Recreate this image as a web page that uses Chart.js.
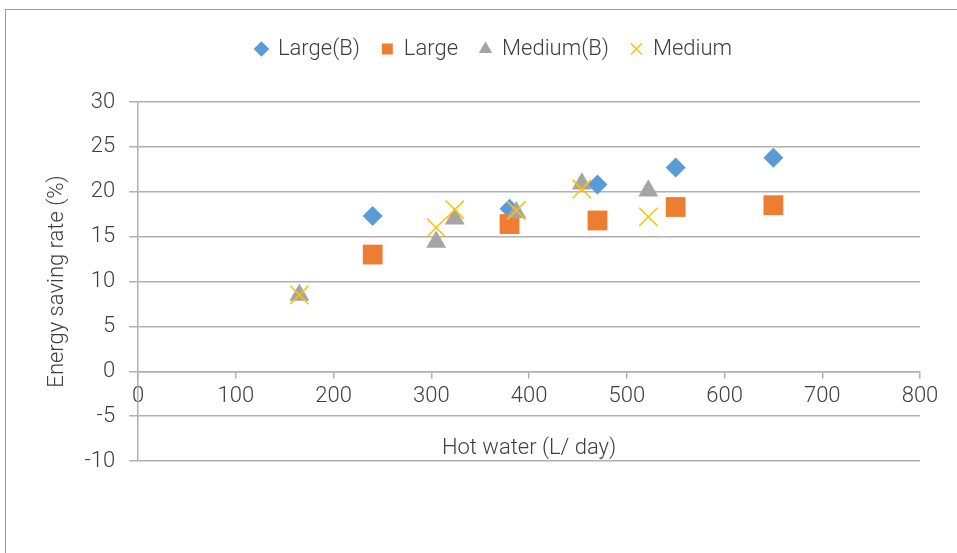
<!DOCTYPE html>
<html>
<head>
<meta charset="utf-8">
<script src="https://cdn.jsdelivr.net/npm/chart.js@4"></script>
<style>
  html, body { margin: 0; padding: 0; background: #fff; overflow: hidden; }
  #wrap { position: relative; width: 957px; height: 553px; }
  #frame { position: absolute; left: 5px; top: 9px; width: 1000px; height: 600px; border: 1px solid #9a9a9a; }
  canvas { position: absolute; left: 0; top: 0; }
</style>
</head>
<body>
<div id="wrap">
  <div id="frame"></div>
  <canvas id="chart" width="957" height="553"></canvas>
</div>
<script>
// hot water (L/day) vs energy saving rate (%)
const largeBX = [240, 380, 470, 550, 650];
const largeBY = [17.3, 18.1, 20.8, 22.7, 23.8];
const largeX = [240, 380, 470, 550, 650];
const largeY = [13.0, 16.4, 16.8, 18.3, 18.5];
const mediumBX = [165, 305, 324, 387, 454, 522];
const mediumBY = [8.5, 14.4, 17.0, 17.7, 20.9, 20.1];
const mediumX = [165, 305, 324, 387, 454, 522];
const mediumY = [8.5, 16.0, 18.0, 17.9, 20.3, 17.2];

const seriesNames = ['Large(B)', 'Large', 'Medium(B)', 'Medium'];
const xTicks = { min: 0, max: 800, step: 100 };
const yTicks = { min: -10, max: 30, step: 5 };

const textColor = '#404040';
const gridColor = '#b0b0b0';
const fontFamily = 'Roboto, "Liberation Sans", sans-serif';

function toPoints(xs, ys) {
    return xs.map((x, i) => ({ x: x, y: ys[i] }));
}

// push the plot down a bit below the legend, and nudge legend right
const legendTweak = {
    id: 'legendTweak',
    beforeInit(chart) {
        const legend = chart.legend;
        const fit = legend.fit;
        legend.fit = function() {
            fit.call(this);
            this.height += 32;
        };
        const draw = legend.draw;
        legend.draw = function() {
            const c = this.ctx;
            c.save();
            c.translate(12, 0);
            draw.call(this);
            c.restore();
        };
    }
};

Chart.defaults.font.family = fontFamily;
Chart.defaults.font.weight = 300;
Chart.defaults.color = textColor;

const ctx = document.getElementById('chart').getContext('2d');
new Chart(ctx, {
    type: 'scatter',
    data: {
        datasets: [
            {
                label: seriesNames[0],
                data: toPoints(largeBX, largeBY),
                pointStyle: 'rectRot',
                pointRadius: 10,
                backgroundColor: '#5b9bd5',
                borderColor: '#5b9bd5',
                borderWidth: 0,
                order: 4
            },
            {
                label: seriesNames[1],
                data: toPoints(largeX, largeY),
                pointStyle: 'rect',
                pointRadius: 14,
                backgroundColor: '#ed7d31',
                borderColor: '#ed7d31',
                borderWidth: 0,
                order: 3
            },
            {
                label: seriesNames[2],
                data: toPoints(mediumBX, mediumBY),
                pointStyle: 'triangle',
                pointRadius: 11.5,
                backgroundColor: '#a5a5a5',
                borderColor: '#a5a5a5',
                borderWidth: 0,
                order: 2
            },
            {
                label: seriesNames[3],
                data: toPoints(mediumX, mediumY),
                pointStyle: 'crossRot',
                pointRadius: 13,
                backgroundColor: '#ffc000',
                borderColor: '#ffc000',
                borderWidth: 1.5,
                order: 1
            }
        ]
    },
    options: {
        responsive: false,
        animation: false,
        layout: { padding: { left: 44, right: 37, top: 16, bottom: 92 } },
        plugins: {
            tooltip: { enabled: false },
            legend: {
                position: 'top',
                labels: {
                    usePointStyle: true,
                    boxWidth: 11,
                    boxHeight: 11,
                    padding: 22,
                    font: { size: 22, weight: 300 },
                    color: textColor,
                    sort: (a, b) => a.datasetIndex - b.datasetIndex
                }
            }
        },
        scales: {
            x: {
                type: 'linear',
                position: { y: 0 },
                min: xTicks.min,
                max: xTicks.max,
                ticks: { stepSize: xTicks.step, font: { size: 22, weight: 300 }, color: textColor, padding: 6 },
                grid: { drawOnChartArea: false, drawTicks: true, tickLength: 6, color: gridColor, lineWidth: 1.5 },
                border: { display: true, color: gridColor, width: 1.5 },
                title: { display: true, text: 'Hot water (L/ day)', font: { size: 22, weight: 300 }, color: textColor, padding: { top: 20 } }
            },
            y: {
                type: 'linear',
                min: yTicks.min,
                max: yTicks.max,
                ticks: { stepSize: yTicks.step, font: { size: 22, weight: 300 }, color: textColor, padding: 14 },
                grid: { color: gridColor, lineWidth: 1.5, tickLength: 9 },
                border: { display: true, color: gridColor, width: 1.5 },
                title: { display: true, text: 'Energy saving rate (%)', font: { size: 22, weight: 300 }, color: textColor, padding: { top: 0, bottom: 0 } }
            }
        }
    },
    plugins: [legendTweak]
});
</script>
</body>
</html>
